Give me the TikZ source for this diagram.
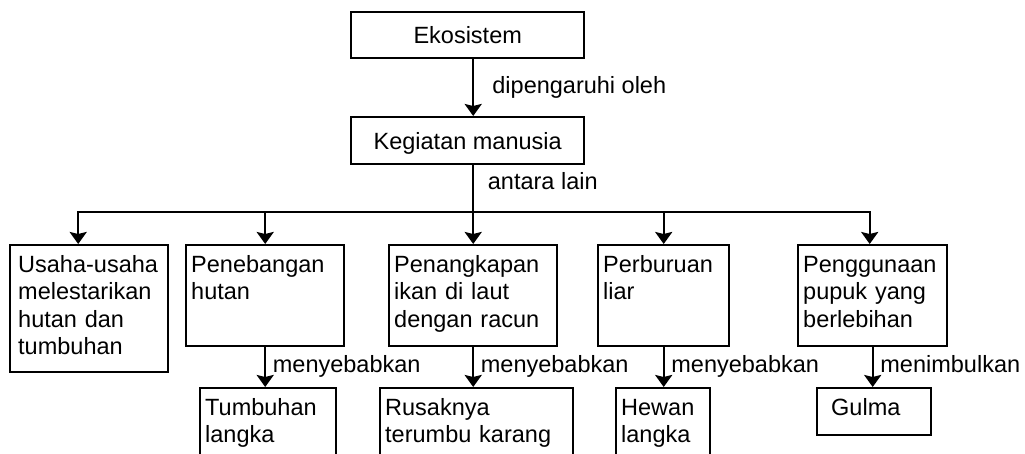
\documentclass[tikz,border=0pt]{standalone}
\usepackage{fontspec}
\setmainfont{Liberation Sans}
\usetikzlibrary{arrows.meta}

\begin{document}
\begin{tikzpicture}[x=1pt, y=-1pt,
    every node/.style={font=\fontsize{23.5}{27.5}\selectfont},
    line/.style={line width=2.4pt},
    arr/.style={line, -{Stealth[length=12pt,width=17pt,inset=2pt]}},
    head/.style={draw, line width=2.4pt, anchor=north west, inner sep=0pt,
        minimum width=233pt, minimum height=46pt, text height=17pt, text depth=0pt},
    box/.style={draw, line width=2.4pt, anchor=north west, align=left,
        inner xsep=5pt, inner ysep=10pt, text height=17pt},
    lbl/.style={anchor=base west, inner sep=0pt}]
  \path[use as bounding box, clip] (0,0) rectangle (1025,454);
  % top of the tree
  \node[head] (eko) at (350,11) {Ekosistem};
  \node[head, minimum height=47pt] (keg) at (350,116) {Kegiatan manusia};
  % human activities
  \node[box, inner xsep=8pt, text width=142pt, text depth=90pt] (b1) at (9,244)
    {Usaha-usaha\\melestarikan\\hutan dan\\tumbuhan};
  \node[box, text width=148pt, text depth=64pt] (b2) at (185,244) {Penebangan\\hutan};
  \node[box, text width=158pt, text depth=64pt] (b3) at (388,244)
    {Penangkapan\\ikan di laut\\dengan racun};
  \node[box, text width=121pt, text depth=64pt] (b4) at (597,244) {Perburuan\\liar};
  \node[box, text width=139pt, text depth=64pt] (b5) at (797,244)
    {Penggunaan\\pupuk yang\\berlebihan};
  % results
  \node[box, text width=126pt, text depth=56pt] (c2) at (199,387) {Tumbuhan\\langka};
  \node[box, text width=183pt, text depth=56pt] (c3) at (379,387) {Rusaknya\\terumbu karang};
  \node[box, text width=84pt, text depth=56pt] (c4) at (615,387) {Hewan\\langka};
  \node[box, inner xsep=14pt, text width=86pt, text depth=10pt] (c5) at (816,387) {Gulma};

  \coordinate (bus) at (b3.north |- 0,212);
  \draw[arr] (b3.north |- eko.south) -- (b3.north |- keg.north)
    node[lbl, midway, xshift=18pt, yshift=-5.5pt] {dipengaruhi oleh};
  \draw[arr] (b3.north |- keg.south) -- (b3.north)
    node[lbl, pos=.31, xshift=13.5pt] {antara lain};
  \draw[arr] (bus) -| ([xshift=-11pt]b1.north);
  \draw[arr] (bus) -| ([xshift=-3pt]b5.north);
  \foreach \b in {b2,b4}
    \draw[arr] (\b.north |- bus) -- (\b.north);
  \foreach \p/\c/\t in {b2/c2/menyebabkan, b3/c3/menyebabkan,
                        b4/c4/menyebabkan, b5/c5/menimbulkan}
    \draw[arr] (\p.south) -- (\p.south |- \c.north)
      node[lbl, midway, xshift=6.5pt, yshift=-5pt] {\t};
\end{tikzpicture}
\end{document}
